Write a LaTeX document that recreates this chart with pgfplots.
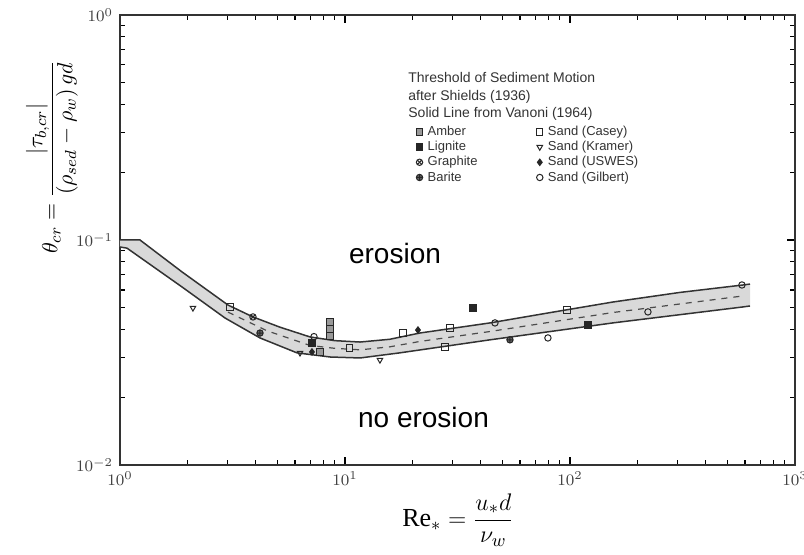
\documentclass[border=0pt]{standalone}
\usepackage{pgfplots}
\pgfplotsset{compat=1.18}
\usepgfplotslibrary{fillbetween}
\usetikzlibrary{plotmarks}
\usepackage{fontspec}
\setmainfont{Liberation Serif}
\newfontfamily\arialf{Liberation Sans}
\begin{document}
\begin{tikzpicture}
\begin{axis}[
  at={(0pt,0pt)}, anchor=south west,
  scale only axis, width=337.5pt, height=225pt,
  xmode=log, ymode=log,
  xmin=1, xmax=1000, ymin=0.01, ymax=1,
  xtick={1,10,100,1000}, ytick={0.01,0.1,1},
  minor xtick={2,3,4,5,6,7,8,9,20,30,40,50,60,70,80,90,200,300,400,500,600,700,800,900},
  minor ytick={0.02,0.03,0.04,0.05,0.06,0.07,0.08,0.09,0.2,0.3,0.4,0.5,0.6,0.7,0.8,0.9},
  tick align=inside,
  major tick length=4pt, minor tick length=2.5pt,
  axis line style={black!80, line width=0.7pt},
  every tick/.append style={black, line width=0.6pt},
  ticklabel style={font=\fontsize{8}{9}\selectfont, text=black!75},
  legend style={at={(rel axis cs:0.4384,0.758)}, anchor=north west, draw=none, fill=none, inner sep=0pt,
    font=\arialf\fontsize{6.5}{7.5}\selectfont, text=black!80, row sep=0pt,
    nodes={inner xsep=2.5pt, inner ysep=0.6pt, text height=5pt, text depth=1.4pt},
    /tikz/every even column/.append style={column sep=27pt}, cells={anchor=west}},
  legend columns=2,
  mark size=1.6pt,
]
% band boundaries (paths only)
\addplot[name path=U, draw=none, forget plot] coordinates {
 (1,0.1) (1.227,0.1) (1.888,0.0721) (3.02,0.0514) (3.90,0.0455) (5.13,0.0410) (6.98,0.0371)
 (9.0,0.0357) (11.67,0.0352) (15.8,0.0362) (21.5,0.0386) (44.1,0.0428) (80,0.0474) (155,0.0530)
 (309,0.0585) (587,0.0631) (631,0.0637)};
\addplot[name path=L, draw=none, forget plot] coordinates {
 (1,0.0931) (1.074,0.0920) (1.888,0.0618) (2.93,0.0450) (4.19,0.0367) (6.12,0.0315) (8.58,0.0302)
 (11.67,0.0299) (17.5,0.0315) (44.1,0.0360) (155,0.0428) (587,0.0504) (631,0.0509)};
\addplot[gray!30, forget plot] fill between[of=U and L];
% band lines
\addplot[black!80, line width=0.75pt, forget plot] coordinates {
 (1,0.1) (1.227,0.1) (1.888,0.0721) (3.02,0.0514) (3.90,0.0455) (5.13,0.0410) (6.98,0.0371)
 (9.0,0.0357) (11.67,0.0352) (15.8,0.0362) (21.5,0.0386) (44.1,0.0428) (80,0.0474) (155,0.0530)
 (309,0.0585) (587,0.0631) (631,0.0637)};
\addplot[black!80, line width=0.75pt, forget plot] coordinates {
 (1,0.0931) (1.074,0.0920) (1.888,0.0618) (2.93,0.0450) (4.19,0.0367) (6.12,0.0315) (8.58,0.0302)
 (11.67,0.0299) (17.5,0.0315) (44.1,0.0360) (155,0.0428) (587,0.0504) (631,0.0509)};
\addplot[black!70, line width=0.6pt, dashed, forget plot] coordinates {
 (3.02,0.0478) (4.5,0.0395) (6.98,0.0340) (9.0,0.0330) (11.67,0.0325) (15.8,0.0335) (21.5,0.0354)
 (44.1,0.0392) (155,0.0476) (587,0.0564)};
% data series (legend order: row-wise, 2 columns)
\addplot[only marks, mark=square*, mark options={fill=black!40, draw=black!85, line width=0.5pt}] coordinates {
 (8.58,0.0432) (8.58,0.0402) (8.58,0.0374) (7.74,0.0318)};
\addlegendentry{Amber}
\addplot[only marks, mark=square, mark options={draw=black!85, line width=0.5pt}] coordinates {
 (3.08,0.0504) (10.5,0.0331) (18.1,0.0386) (27.8,0.0334) (29.3,0.0406) (97,0.0489)};
\addlegendentry{Sand (Casey)}
\addplot[only marks, mark=square*, mark options={fill=black!85, draw=black!85, line width=0.5pt}] coordinates {
 (37.1,0.0499) (120,0.0419) (7.13,0.0348)};
\addlegendentry{Lignite}
\addplot[only marks, mark=triangle, mark options={rotate=180, draw=black!85, line width=0.5pt}] coordinates {
 (2.11,0.0499) (6.31,0.0315) (14.3,0.0293)};
\addlegendentry{Sand (Kramer)}
\addplot[only marks, mark=otimes, mark options={draw=black!85, line width=0.5pt}] coordinates {
 (3.90,0.0455)};
\addlegendentry{Graphite}
\addplot[only marks, mark=diamond*, mark options={fill=black!85, draw=black!85, line width=0.5pt}] coordinates {
 (21.1,0.0398) (7.13,0.0318)};
\addlegendentry{Sand (USWES)}
\addplot[only marks, mark=oplus*, mark options={fill=black!60, draw=black!85, line width=0.5pt}] coordinates {
 (4.19,0.0386) (54.1,0.0360)};
\addlegendentry{Barite}
\addplot[only marks, mark=o, mark options={draw=black!85, line width=0.5pt}] coordinates {
 (7.28,0.0372) (46.4,0.0428) (79.8,0.0367) (222,0.0479) (581,0.0631)};
\addlegendentry{Sand (Gilbert)}
\end{axis}
\node[font=\arialf\fontsize{14}{16}\selectfont] at (137.5pt,105.75pt) {erosion};
\node[font=\arialf\fontsize{14}{16}\selectfont] at (151.75pt,23.5pt) {no erosion};
\node[anchor=north west, inner sep=0pt, align=left, font=\arialf\fontsize{7}{8.75}\selectfont, text=black!80]
  at (144pt,196.5pt) {Threshold of Sediment Motion\\after Shields (1936)\\Solid Line from Vanoni (1964)};
\node[rotate=90, font=\fontsize{11}{13}\selectfont] at (-34pt,154pt)
  {$\displaystyle \theta_{cr} = \frac{\left|\tau_{b,cr}\right|}{\left(\rho_{sed}-\rho_{w}\right) g d}$};
\node[font=\fontsize{13}{15}\selectfont] at (169pt,-27.5pt)
  {$\displaystyle \mathrm{Re}_{*} = \frac{u_{*} d}{\nu_{w}}$};
\pgfresetboundingbox
\useasboundingbox (-60pt,-45pt) rectangle (342pt,232.5pt);
\end{tikzpicture}
\end{document}
